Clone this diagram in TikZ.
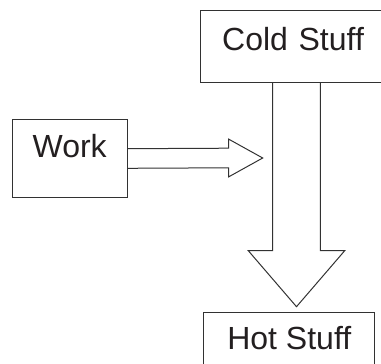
\documentclass[tikz,border=0pt]{standalone}
\usepackage{fontspec}
\setmainfont{Liberation Sans}
\usetikzlibrary{calc}
\definecolor{linegray}{RGB}{50,50,50}
\definecolor{textgray}{RGB}{35,31,32}

\begin{document}
\begin{tikzpicture}[x=1pt,y=-1pt]
\tikzstyle{thing}=[draw=linegray,line width=1pt,anchor=north west,inner ysep=0pt,text=textgray,font=\fontsize{32}{38}\selectfont]
\tikzstyle{hollow}=[draw=linegray,line width=1pt,line join=miter]
\useasboundingbox (0,0) rectangle (381,364);
\node[thing, align=left, inner xsep=22.2pt, text width=148.6pt, text height=40.5pt, text depth=31.5pt] (cold) at (199.5,9.5) {Cold Stuff};
\node[thing, align=center, minimum width=115pt, text height=37.7pt, text depth=39.7pt] (work) at (11.7,119.3) {Work};
\node[thing, align=center, minimum width=171pt, text height=37.3pt, text depth=40pt] (hot) at (203.3,311.7) {Hot Stuff};
\coordinate (wtip) at ($(work.east)+(135,-0.5)$);
\coordinate (ctip) at ($(hot.north)+(7.2,-5)$);
% work pushes heat across
\draw[hollow] ($(work.east)+(0,-9.8)$) -- ($(wtip)+(-34,-9.8)$) -- ($(wtip)+(-34,-18.85)$) -- (wtip)
  -- ($(wtip)+(-34,18.85)$) -- ($(wtip)+(-34,9.8)$) -- ($(work.east)+(0,9.8)$);
% cold to hot
\draw[hollow] ($(cold.south)+(-23.8,0)$) -- ($(ctip)+(-23.8,-56)$) -- ($(ctip)+(-48.2,-56)$) -- (ctip)
  -- ($(ctip)+(48.2,-56)$) -- ($(ctip)+(23.8,-56)$) -- ($(cold.south)+(23.8,0)$);
\end{tikzpicture}
\end{document}
